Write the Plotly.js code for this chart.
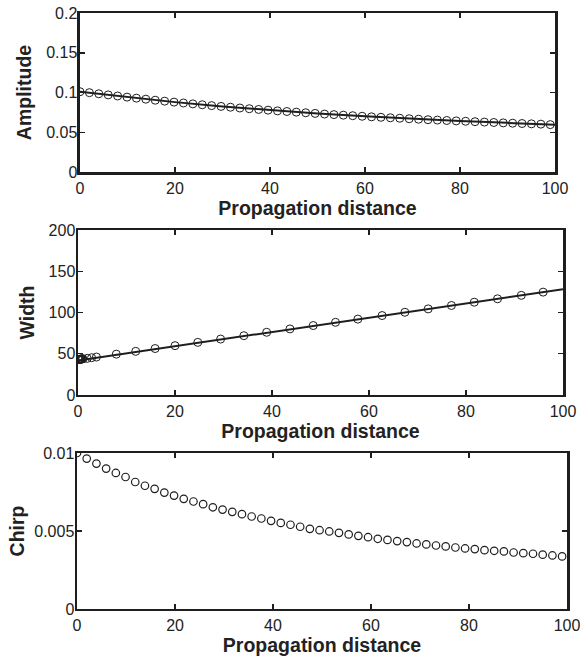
<!DOCTYPE html>
<html><head><meta charset="utf-8">
<script src="https://cdn.plot.ly/plotly-3.0.1.min.js"></script>
<style>html,body{margin:0;padding:0;background:#fff}#chart{width:580px;height:657px}</style>
</head><body><div id="chart"></div>
<script>
// Propagation distance sample points (amplitude & chirp markers)
const distance = [0,1.98,3.96,5.94,7.92,9.9,11.88,13.86,15.84,17.82,19.8,21.78,23.76,25.74,27.72,29.7,31.68,33.66,35.64,37.62,39.6,41.58,43.56,45.54,47.52,49.5,51.48,53.46,55.44,57.42,59.4,61.38,63.36,65.34,67.32,69.3,71.28,73.26,75.24,77.22,79.2,81.18,83.16,85.14,87.12,89.1,91.08,93.06,95.04,97.02,99];
const amplitude = [0.1010,0.0998,0.0984,0.0970,0.0956,0.0942,0.0929,0.0916,0.0903,0.0891,0.0879,0.0868,0.0857,0.0846,0.0835,0.0825,0.0815,0.0805,0.0796,0.0787,0.0778,0.0769,0.0761,0.0753,0.0745,0.0737,0.0729,0.0722,0.0715,0.0708,0.0701,0.0694,0.0688,0.0682,0.0676,0.0670,0.0664,0.0658,0.0653,0.0648,0.0643,0.0638,0.0633,0.0628,0.0623,0.0618,0.0614,0.0610,0.0606,0.0602,0.0596];
const ampLineZ = [0,10,20,30,40,50,60,70,80,90,100];
const ampLine = [0.1010,0.0942,0.0879,0.0825,0.0778,0.0737,0.0701,0.0670,0.0643,0.0618,0.0594];

const widthZ = [0,0.1,0.2,0.3,0.4,0.5,0.6,0.7,0.8,0.9,1.0,1.9,2.8,3.8,7.9,11.9,15.9,20.0,24.7,29.4,34.2,38.9,43.7,48.5,53.1,57.7,62.7,67.4,72.2,77.0,81.7,86.5,91.4,95.9];
const widthVals = [42.9,43.0,43.1,43.2,43.3,43.4,43.5,43.6,43.7,43.8,43.9,44.4,45.2,46.0,49.5,52.9,56.3,59.8,63.8,67.8,71.9,76.0,80.1,84.2,88.1,92.0,96.3,100.3,104.4,108.5,112.5,116.6,120.8,124.7];
const widthLineZ = [0,25,50,75,100];
const widthLine = [41.8,63.3,84.9,106.5,128.2];

const chirp = [0.0100,0.00964,0.00932,0.00900,0.00872,0.00846,0.00814,0.00790,0.00770,0.00746,0.00727,0.00706,0.00689,0.00672,0.00652,0.00637,0.00623,0.00608,0.00593,0.00580,0.00565,0.00552,0.00540,0.00527,0.00514,0.00505,0.00497,0.00488,0.00478,0.00469,0.00460,0.00450,0.00443,0.00435,0.00429,0.00420,0.00414,0.00407,0.00401,0.00394,0.00388,0.00384,0.00377,0.00373,0.00369,0.00362,0.00358,0.00354,0.00348,0.00343,0.00337];

const xTitle = 'Propagation distance';
const yTitles = ['Amplitude','Width','Chirp'];

const ink = '#1e1e1e';
const mk = (size, w) => ({symbol:'circle-open', size:size, color:ink, line:{width:w, color:ink}});

const traces = [
  {x:ampLineZ, y:ampLine, mode:'lines', line:{color:ink, width:2}, xaxis:'x', yaxis:'y', hoverinfo:'skip'},
  {x:distance, y:amplitude, mode:'markers', marker:mk(8,1), xaxis:'x', yaxis:'y'},
  {x:widthLineZ, y:widthLine, mode:'lines', line:{color:ink, width:2}, xaxis:'x2', yaxis:'y2', hoverinfo:'skip'},
  {x:widthZ, y:widthVals, mode:'markers', marker:mk(8,1), xaxis:'x2', yaxis:'y2'},
  {x:distance, y:chirp, mode:'markers', marker:mk(7.5,1.2), xaxis:'x3', yaxis:'y3'}
];

const tickFont = {family:'Liberation Sans, Arial, sans-serif', size:16, color:'#222'};
const titleFont = {family:'Liberation Sans, Arial, sans-serif', size:19.5, color:'#222', weight:'bold'};

function xa(domain, anchor){
  return {domain:domain, anchor:anchor, range:[0,100], tickvals:[0,20,40,60,80,100],
    ticks:'inside', ticklen:5, tickwidth:1.5, tickcolor:ink, showline:true, linecolor:ink, linewidth:2.5,
    mirror:'ticks', showgrid:false, zeroline:false, tickfont:tickFont, ticklabelstandoff:0,
    ticklabeloverflow:'allow',
    title:{text:xTitle, font:titleFont, standoff:0}, automargin:false, fixedrange:true};
}
function ya(domain, anchor, range, vals, title, standoff){
  return {domain:domain, anchor:anchor, range:range, tickvals:vals,
    ticks:'inside', ticklen:5, tickwidth:1.5, tickcolor:ink, showline:true, linecolor:ink, linewidth:2.5,
    mirror:'ticks', showgrid:false, zeroline:false, tickfont:tickFont, ticklabelstandoff:-3,
    ticklabeloverflow:'allow',
    title:{text:title, font:titleFont, standoff:standoff}, automargin:false, fixedrange:true};
}

const layout = {
  width:580, height:657, margin:{l:0,r:0,t:0,b:0},
  paper_bgcolor:'#fff', plot_bgcolor:'#fff', showlegend:false,
  xaxis: xa([0.1379,0.9569],'y'),
  yaxis: ya([0.7382,0.9802],'x',[0,0.2],[0,0.05,0.1,0.15,0.2],yTitles[0],10),
  xaxis2: xa([0.1345,0.9707],'y2'),
  yaxis2: ya([0.3988,0.6499],'x2',[0,200],[0,50,100,150,200],yTitles[1],9),
  xaxis3: xa([0.1328,0.9776],'y3'),
  yaxis3: ya([0.0731,0.3105],'x3',[0,0.01],[0,0.005,0.01],yTitles[2],5)
};

Plotly.newPlot('chart', traces, layout, {displayModeBar:false, staticPlot:true});
</script>
</body></html>
